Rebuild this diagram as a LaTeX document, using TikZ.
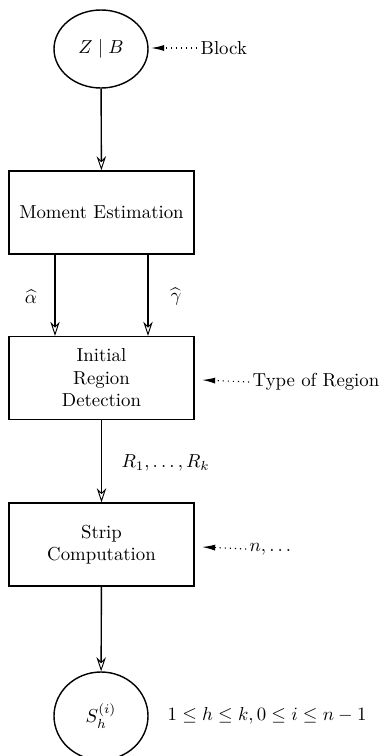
\documentclass[tikz,border=0pt]{standalone}
\usetikzlibrary{arrows.meta,shapes.geometric}
\begin{document}
\begin{tikzpicture}[x=0.532pt,y=-0.532pt,
  line width=0.75pt,
  procbox/.style={draw,rectangle,minimum width=185*0.532pt,minimum height=83*0.532pt,inner sep=0pt,align=center},
  endnode/.style={draw,ellipse,minimum width=94*0.532pt,inner sep=0pt},
  flow/.style={-{Stealth[open,length=7.5pt,width=5pt,inset=2.5pt,line width=0.5pt]}},
  hint/.style={line width=0.6pt,dash pattern=on 0.6pt off 2.1pt,-{Latex[length=7pt,width=3.2pt]}},
  lbl/.style={inner sep=0pt,anchor=west}]
\useasboundingbox (0,0) rectangle (381,756);
\node[endnode,minimum height=78*0.532pt] (zb) at (101,49) {$Z \mid B$};
\node[procbox] (me) at (101.5,212.5) {Moment Estimation};
\node[procbox] (ird) at (101.5,378) {Initial\\Region\\Detection};
\node[procbox] (sc) at (101.5,544.5) {Strip\\Computation};
\node[endnode,minimum height=88*0.532pt] (s) at (101,716) {$S_h^{(i)}$};
\draw[flow] (zb) -- (me);
\draw[flow] (me.south -| 55,0) -- (ird.north -| 55,0);
\draw[flow] (me.south -| 148,0) -- (ird.north -| 148,0);
\draw[flow] (ird) -- (sc);
\draw[flow] (sc) -- (s);
\node (al) at (31,297) {$\widehat{\alpha}$};
\node (ga) at (176,297) {$\widehat{\gamma}$};
\node[lbl] (rk) at (121,463) {$R_1,\ldots,R_k$};
\node[lbl] (blk) at (200,48) {Block};
\node[lbl] (tor) at (252,382) {Type of Region};
\node[lbl] (nn) at (249,549) {$n,\ldots$};
\node[lbl] (rng) at (167,716) {$1\leq h\leq k, 0\leq i\leq n-1$};
\coordinate (t1) at (151,48);
\coordinate (t2) at (202,380);
\coordinate (t3) at (202,547);
\draw[hint] ([xshift=-1.5pt]blk.west) -- (t1);
\draw[hint] ([xshift=-1.5pt]tor.west) -- (t2);
\draw[hint] ([xshift=-1.5pt]nn.west) -- (t3);
\end{tikzpicture}
\end{document}
